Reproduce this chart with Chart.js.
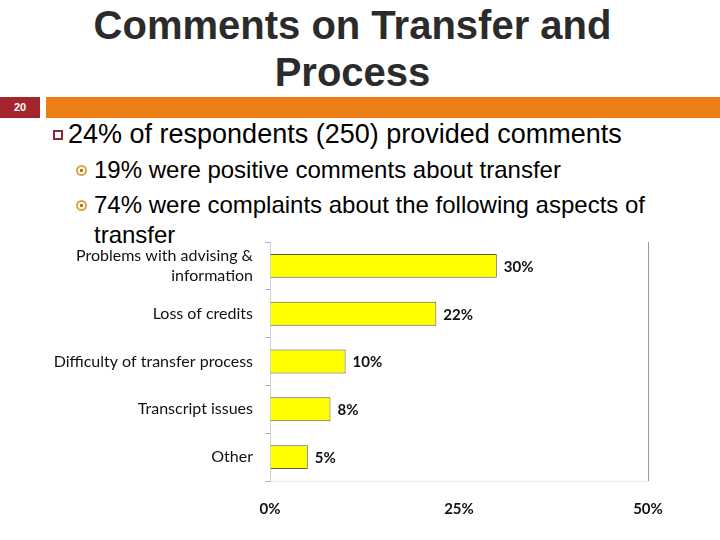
<!DOCTYPE html>
<html>
<head>
  <meta charset="utf-8" />
  <title>Comments on Transfer and Process</title>
  <script src="https://cdn.jsdelivr.net/npm/chart.js@4/dist/chart.umd.min.js"></script>
  <style>
    body {
      margin: 0;
      width: 720px;
      height: 540px;
      background: #ffffff;
      position: relative;
      overflow: hidden;
      font-family: "Liberation Sans", Arial, sans-serif;
    }
    #title {
      position: absolute;
      left: 0; top: 2px; width: 705px;
      text-align: center;
      font-weight: bold;
      font-size: 40px;
      line-height: 47px;
      color: #2b2b2b;
    }
    #slideNum {
      position: absolute;
      left: 0; top: 97px; width: 40px; height: 21px;
      background: #a4262c;
      color: #fff;
      font-size: 11px; font-weight: bold;
      line-height: 21px; text-align: center;
    }
    #band {
      position: absolute;
      left: 46px; top: 97px; right: 0; height: 21px;
      background: #ed7d15;
    }
    .lvl1 {
      position: absolute; left: 68px; top: 118px;
      font-size: 27px; line-height: 32px; color: #000;
    }
    .sq {
      position: absolute; left: 53px; top: 130px;
      width: 6px; height: 6px; border: 2px solid #8b2a35;
    }
    .lvl2 {
      position: absolute; left: 94px;
      font-size: 24px; color: #000; line-height: 30px;
    }
    .dot {
      position: absolute; left: 76px;
      width: 7px; height: 7px; border-radius: 50%;
      border: 2px solid #d9a441;
      background: radial-gradient(circle, #b07a20 0 1.5px, #fff 2px);
    }
    #wrap {
      position: absolute; left: 0; top: 235px; width: 720px; height: 305px;
    }
  </style>
</head>
<body>
  <div id="title">Comments on Transfer and<br>Process</div>
  <div id="slideNum">20</div>
  <div id="band"></div>
  <div class="sq"></div>
  <div class="lvl1">24% of respondents (250) provided comments</div>
  <div class="dot" style="top:165px"></div>
  <div class="lvl2" style="top:155px">19% were positive comments about transfer</div>
  <div class="dot" style="top:200px"></div>
  <div class="lvl2" style="top:190px; width:580px">74% were complaints about the following aspects of transfer</div>
  <div id="wrap"><canvas id="barAspects" width="720" height="305"></canvas></div>
  <script>
    var aspects = [
      ["Problems with advising &", "information"],
      "Loss of credits",
      "Difficulty of transfer process",
      "Transcript issues",
      "Other"
    ];
    var shares = [30, 22, 10, 8, 5];
    var tickValues = [0, 25, 50];

    var labelFont = "Lato, 'DejaVu Sans', sans-serif";

    // value labels right of each bar
    var valueLabels = {
      id: 'valueLabels',
      afterDatasetsDraw: function(chart) {
        var c = chart.ctx;
        var meta = chart.getDatasetMeta(0);
        c.save();
        c.font = "bold 15px " + labelFont;
        c.fillStyle = "#111";
        c.textAlign = "left";
        c.textBaseline = "middle";
        meta.data.forEach(function(bar, i) {
          c.fillText(shares[i] + "%", bar.x + 7, bar.y + 1);
        });
        c.restore();
      }
    };

    var ctx = document.getElementById("barAspects");
    var chart = new Chart(ctx, {
      type: 'bar',
      data: {
        labels: aspects,
        datasets: [{
          data: shares,
          backgroundColor: '#ffff00',
          borderColor: '#5e5a2a',
          borderWidth: 1,
          borderSkipped: 'left',
          categoryPercentage: 1,
          barPercentage: 0.5
        }]
      },
      options: {
        indexAxis: 'y',
        responsive: false,
        animation: false,
        maintainAspectRatio: false,
        layout: { padding: { top: 7, right: 72, left: 0, bottom: 0 } },
        plugins: {
          legend: { display: false },
          tooltip: { enabled: false }
        },
        scales: {
          x: {
            min: 0,
            max: 50,
            afterBuildTicks: function(axis) {
              axis.ticks = tickValues.map(function(v) { return { value: v }; });
            },
            afterFit: function(axis) { axis.height = 59; },
            border: { display: true, color: '#eeeeee' },
            grid: {
              drawTicks: false,
              color: function(c) { return c.tick && c.tick.value === 50 ? '#9a9a9a' : 'rgba(0,0,0,0)'; }
            },
            ticks: {
              padding: 19,
              maxRotation: 0,
              color: '#111',
              font: { family: labelFont, size: 15, weight: 'bold' },
              callback: function(v) { return v + '%'; }
            }
          },
          y: {
            afterFit: function(axis) {
              axis.width = 270;
              axis.paddingTop = 0;
              axis.paddingBottom = 0;
            },
            border: { display: true, color: '#cfcfcf' },
            grid: {
              offset: true,
              drawOnChartArea: false,
              tickLength: 5,
              color: '#b5b5b5'
            },
            ticks: {
              padding: 12,
              color: '#111',
              font: { family: labelFont, size: 16 }
            }
          }
        }
      },
      plugins: [valueLabels]
    });
  </script>
</body>
</html>
